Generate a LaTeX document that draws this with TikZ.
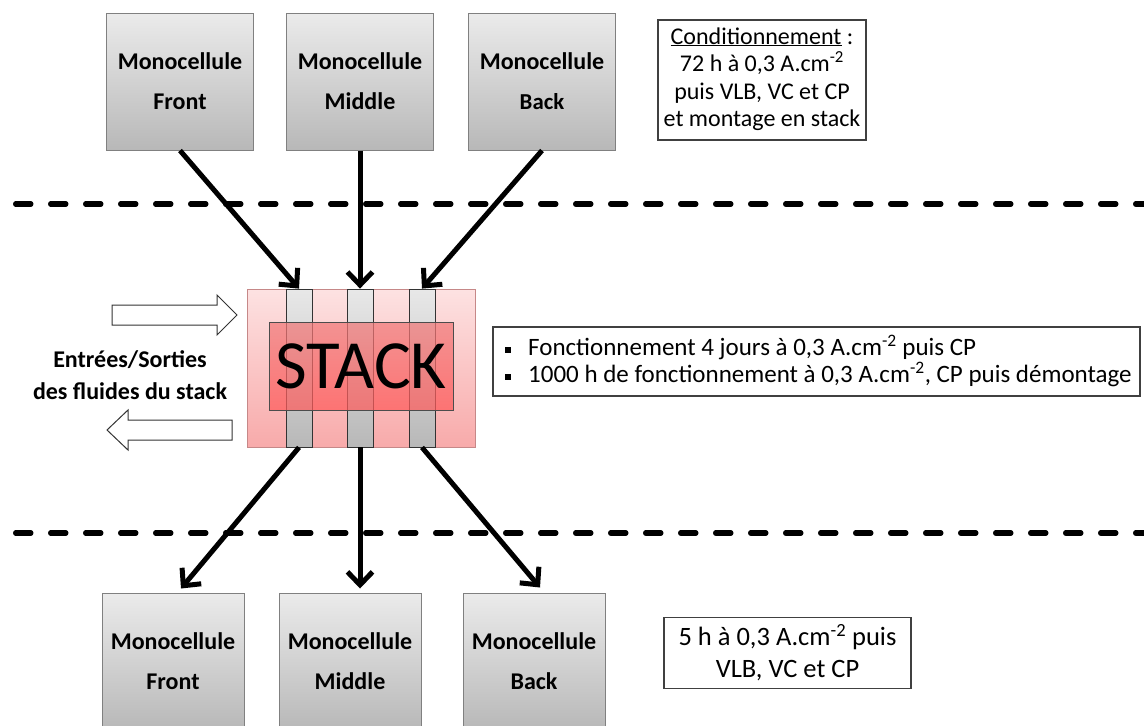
\documentclass[tikz,border=0pt]{standalone}
\usepackage{fontspec}
\usepackage{graphicx}
\setmainfont{Carlito}
\usetikzlibrary{arrows.meta,calc}
\definecolor{boxborder}{HTML}{808080}
\definecolor{celltop}{HTML}{EBEBEB}
\definecolor{cellbot}{HTML}{B8B8B8}
\definecolor{pinktop}{HTML}{FDE2E2}
\definecolor{pinkbot}{HTML}{F8AAAA}
\definecolor{redtop}{HTML}{F07878}
\definecolor{redbot}{HTML}{FF5A5A}
\definecolor{striptop}{HTML}{E8E8E8}
\definecolor{stripbot}{HTML}{B8B8B8}
\begin{document}
\begin{tikzpicture}[x=1pt,y=-1pt,
  cellbox/.style={rectangle, draw=boxborder, line width=1pt, top color=celltop, bottom color=cellbot,
    minimum width=147pt, minimum height=137pt, inner sep=0pt, align=center,
    font=\bfseries\fontsize{24}{40}\selectfont},
  cellboxb/.style={cellbox, minimum width=142pt},
  infobox/.style={rectangle, draw=black!75, line width=1.2pt, fill=white, inner sep=0pt},
  conn/.style={line width=5pt, -{Straight Barb[length=13pt,width=25pt]}},
  sep/.style={line width=5.5pt, line cap=round, dash pattern=on 15pt off 20pt},
  strip/.style={rectangle, draw=black!80, line width=0.8pt, top color=striptop, bottom color=stripbot,
    minimum width=26pt, minimum height=158pt, inner sep=0pt},
  fluid/.style={draw=black!80, line width=1pt, fill=white}
]
\useasboundingbox (0,0) rectangle (1144,726);
\clip (0,0) rectangle (1144,726);

% separators
\coordinate (d1a) at (15.75,204); \coordinate (d1b) at (1160,204);
\coordinate (d2a) at (15.75,533); \coordinate (d2b) at (1160,533);
\draw[sep] (d1a) -- (d1b);
\draw[sep] (d2a) -- (d2b);

% top cells
\node[cellbox] (t1) at (180,81.5) {Monocellule\\Front};
\node[cellbox] (t2) at (360,81.5) {Monocellule\\Middle};
\node[cellbox] (t3) at (542,81.5) {Monocellule\\\scalebox{0.95}{Back}};

% conditionnement box
\node[infobox, minimum width=208pt, minimum height=120pt] (cond) at (762,80) {};
\node[align=center, font=\fontsize{24}{27.5}\selectfont, inner sep=0pt] (condt) at (762,79)
  {\underline{Conditionnement} :\\72 h à 0,3 A.cm\textsuperscript{-2}\\puis VLB, VC et CP\\et montage en stack};

% stack
\node[rectangle, draw=pinkbot!80!black, line width=0.4pt, top color=pinktop, bottom color=pinkbot,
  minimum width=228pt, minimum height=158pt, inner sep=0pt] (stackout) at (361,368) {};
\node[strip] (s1) at (299,368) {};
\node[strip] (s2) at (360,368) {};
\node[strip] (s3) at (422,368) {};
\node[rectangle, draw=black!70, line width=0.6pt, top color=redtop, bottom color=redbot, fill opacity=0.72,
  text opacity=1, minimum width=184pt, minimum height=88pt, inner sep=0pt,
  font=\fontsize{69}{69}\selectfont] (stackin) at (361,366) {STACK};

% arrows in
\draw[conn] (t1.south) -- (s1.north);
\draw[conn] (t2.south) -- (s2.north);
\draw[conn] (t3.south) -- (s3.north);

% bottom cells
\node[cellboxb] (b1) at (173,661.5) {Monocellule\\Front};
\node[cellboxb] (b2) at (350,661.5) {Monocellule\\Middle};
\node[cellboxb] (b3) at (534,661.5) {Monocellule\\Back};

% arrows out
\draw[conn] (s1.south) -- ([xshift=8pt,yshift=4pt]b1.north);
\draw[conn] (s2.south) -- ([yshift=4pt]s2.south |- b2.north);
\draw[conn] (s3.south) -- ([xshift=6pt,yshift=5pt]b3.north);

% fluid arrows
\draw[fluid] (112,305) -- (217,305) -- (217,295) -- (237,315) -- (217,335) -- (217,325) -- (112,325) -- cycle;
\draw[fluid] (232,420) -- (128,420) -- (128,410) -- (107,430) -- (128,450) -- (128,440) -- (232,440) -- cycle;
\node[align=center, font=\bfseries\fontsize{24}{32}\selectfont, inner sep=0pt] (fluids) at (130,375)
  {Entrées/Sorties\\des fluides du stack};

% operation box
\node[infobox, minimum width=647pt, minimum height=69pt] (ops) at (816.5,361.5) {};
\node[anchor=west, align=left, font=\fontsize{25}{27}\selectfont, inner sep=0pt] (opst) at (505,361)
  {\raisebox{3pt}{\rule{6pt}{6pt}}\hspace{17pt}Fonctionnement 4 jours à 0,3 A.cm\textsuperscript{-2} puis CP\\
   \raisebox{3pt}{\rule{6pt}{6pt}}\hspace{17pt}1000 h de fonctionnement à 0,3 A.cm\textsuperscript{-2}, CP puis démontage};

% final box
\node[infobox, minimum width=247pt, minimum height=71pt] (fin) at (787.5,653) {};
\node[align=center, font=\fontsize{26.5}{32}\selectfont, inner sep=0pt] (fint) at (787.5,653)
  {5 h à 0,3 A.cm\textsuperscript{-2} puis\\VLB, VC et CP};
\end{tikzpicture}
\end{document}
